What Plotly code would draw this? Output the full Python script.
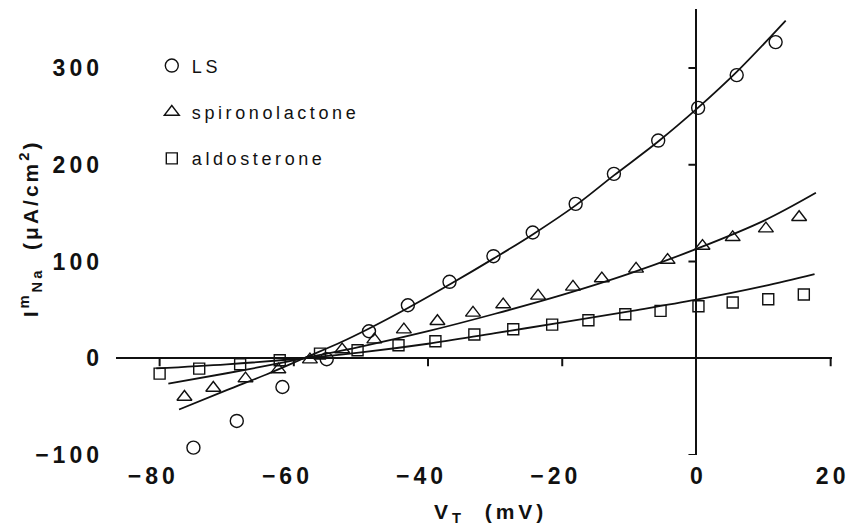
import plotly.graph_objects as go

# ---------------- data ----------------
LS_V = [-74.96, -68.5, -61.7, -55.1, -48.8, -43.0, -36.8, -30.25, -24.4, -18.0,
        -12.3, -5.7, 0.25, 6.0, 11.8]
LS_I = [-92.4, -64.8, -29.7, -1.0, 27.9, 54.8, 79.0, 105.5, 130.0, 159.6,
        190.6, 225.0, 258.8, 292.7, 326.8]

SPIRO_V = [-76.3, -72.0, -67.2, -62.3, -57.6, -52.8, -48.0, -43.6, -38.6, -33.3,
           -28.8, -23.6, -18.4, -14.1, -9.0, -4.3, 0.9, 5.4, 10.35, 15.3]
SPIRO_I = [-40.0, -30.7, -21.0, -11.7, -1.4, 9.0, 19.3, 29.6, 38.3, 46.9,
           55.5, 64.5, 73.8, 82.4, 92.4, 101.5, 116.0, 125.0, 134.0, 145.8]

ALDO_V = [-80.0, -74.1, -68.0, -62.1, -56.1, -50.5, -44.4, -38.9, -33.1, -27.3,
          -21.5, -16.1, -10.6, -5.35, 0.3, 5.4, 10.7, 16.0]
ALDO_I = [-15.9, -10.7, -6.2, -2.0, 4.8, 8.3, 13.4, 17.6, 24.5, 30.0,
          34.8, 39.3, 45.5, 49.0, 53.8, 57.6, 61.0, 65.9]

# fitted curves
LS_FIT_V = [-77.1, -70, -64, -58.5, -53, -49, -43, -36.6, -30.25, -24.4, -18, -12.3, -5.7, 0.25, 6, 13.3]
LS_FIT_I = [-53, -33, -16.5, 0, 16.5, 30, 52, 77, 103, 128, 158, 189, 224, 259, 296, 349]

SPIRO_FIT_V = [-78.7, -70, -64, -58.5, -50, -40, -30, -20, -10, 0, 10, 17.8]
SPIRO_FIT_I = [-26.2, -15.5, -7.7, 0, 12, 28, 46, 65.5, 87.5, 113, 142, 171]

ALDO_FIT_V = [-80.5, -70, -58.5, -50, -40, -30, -20, -10, 0, 10, 17.6]
ALDO_FIT_I = [-10.5, -6.3, 0, 6, 15, 26, 37, 48.5, 60.5, 74.5, 87]

SERIES_NAMES = ["LS", "spironolactone", "aldosterone"]

X_TICKS = [-80, -60, -40, -20, 0, 20]
X_TICK_LABELS = ["\u221280", "\u221260", "\u221240", "\u221220", "0", "20"]
Y_TICKS = [-100, 0, 100, 200, 300]
Y_TICK_LABELS = ["\u2212100", "0", "100", "200", "300"]

X_AXIS_TICKMARKS = [-80, -60, -40, -20, 20]
Y_AXIS_TICKMARKS = [-100, 100, 200, 300]

X_RANGE = [-86.5, 20.2]
Y_RANGE = [-100, 361]

FONT = "Liberation Sans, Arial, Helvetica, sans-serif"
INK = "#111111"


def spaced(s, px):
    """Letter-spaced text; the last character stays outside the span."""
    if len(s) < 2:
        return s
    return f"<span style='letter-spacing:{px}px'>{s[:-1]}</span>{s[-1]}"


def xlabel(s):
    # keep the digits centred on the tick, as in the original typesetting
    if s.startswith("\u2212"):
        return f"<span style='letter-spacing:4px'>{s}</span>\u2007"
    return spaced(s, 4)


fig = go.Figure()

marker_line = dict(color=INK, width=1.4)

for name, xs, ys, sym, size in [
    (SERIES_NAMES[0], LS_V, LS_I, "circle-open", 13),
    (SERIES_NAMES[1], SPIRO_V, SPIRO_I, "triangle-up-open", 13),
    (SERIES_NAMES[2], ALDO_V, ALDO_I, "square-open", 11),
]:
    fig.add_trace(go.Scatter(
        x=xs, y=ys, mode="markers", name=spaced(name, 3.6),
        legendgroup=name,
        marker=dict(symbol=sym, size=size, color=INK, line=marker_line),
        showlegend=True,
    ))

for xs, ys in [(LS_FIT_V, LS_FIT_I), (SPIRO_FIT_V, SPIRO_FIT_I), (ALDO_FIT_V, ALDO_FIT_I)]:
    fig.add_trace(go.Scatter(
        x=xs, y=ys, mode="lines",
        line=dict(color=INK, width=1.8, shape="spline", smoothing=1.0),
        showlegend=False, hoverinfo="skip",
    ))

shapes = []
for v in X_AXIS_TICKMARKS:
    shapes.append(dict(type="line", xref="x", x0=v, x1=v,
                       yref="y", ysizemode="pixel", yanchor=0, y0=0, y1=-8,
                       line=dict(color=INK, width=2)))
for v in Y_AXIS_TICKMARKS:
    shapes.append(dict(type="line", yref="y", y0=v, y1=v,
                       xref="x", xsizemode="pixel", xanchor=0, x0=-8, x1=0,
                       line=dict(color=INK, width=2)))

TICK_FONT = dict(family=FONT, size=23, color=INK, weight="bold")

fig.update_layout(
    width=852, height=529,
    margin=dict(l=116, r=20, t=9, b=74, autoexpand=False),
    paper_bgcolor="white", plot_bgcolor="white",
    font=dict(family=FONT, color=INK),
    showlegend=True,
    legend=dict(
        x=0.05, y=0.914, xanchor="left", yanchor="top",
        bgcolor="rgba(0,0,0,0)", borderwidth=0,
        font=dict(family=FONT, size=18, color=INK),
        tracegroupgap=20, itemwidth=30,
    ),
    xaxis=dict(
        range=X_RANGE, showgrid=False, showline=False, automargin=False,
        zeroline=True, zerolinecolor=INK, zerolinewidth=2,
        ticks="", tickvals=X_TICKS, ticktext=[xlabel(t) for t in X_TICK_LABELS],
        tickfont=TICK_FONT,
        ticklabelstandoff=5,
    ),
    yaxis=dict(
        range=Y_RANGE, showgrid=False, showline=False, automargin=False,
        zeroline=True, zerolinecolor=INK, zerolinewidth=2,
        ticks="", tickvals=Y_TICKS, ticktext=[spaced(t, 4) for t in Y_TICK_LABELS],
        tickfont=TICK_FONT,
        ticklabelstandoff=16,
    ),
    shapes=shapes,
    annotations=[
        dict(text="<span style='letter-spacing:4px'>V<sub>T</sub>\u00a0\u00a0(mV</span>)",
             xref="paper", yref="paper",
             x=0.52, y=-0.13, xanchor="center", yanchor="middle", showarrow=False,
             font=dict(family=FONT, size=21, color=INK, weight="bold")),
        dict(text="<span style='letter-spacing:3px'>I<sup>m</sup><sub>Na</sub>\u00a0\u00a0(\u03bcA/cm<sup>2</sup></span>)",
             xref="paper", yref="paper", textangle=-90,
             x=-0.12, y=0.504, xanchor="center", yanchor="middle", showarrow=False,
             font=dict(family=FONT, size=21, color=INK, weight="bold")),
    ],
)

fig.write_html("out.html")
